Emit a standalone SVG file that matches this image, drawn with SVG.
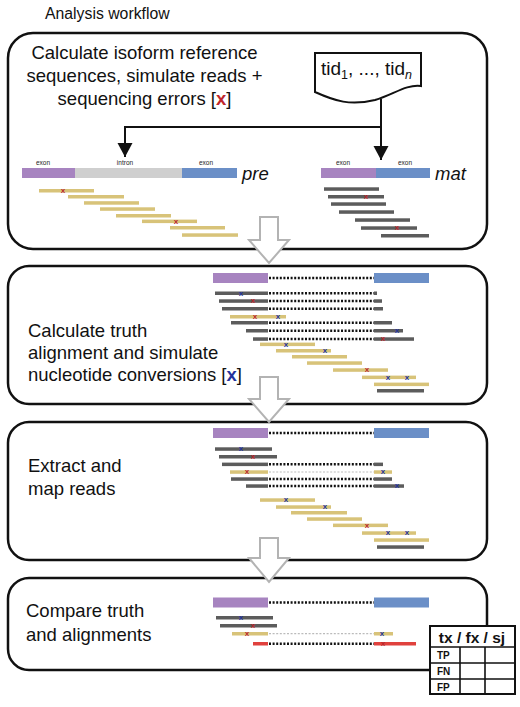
<svg xmlns="http://www.w3.org/2000/svg" width="520" height="707" viewBox="0 0 520 707">
<style>
text{font-family:"Liberation Sans",Arial,sans-serif;fill:#111}
.panel{fill:#fff;stroke:#111;stroke-width:2.5}
.big{font-size:18.5px}
.lab{font-size:6.5px;text-anchor:middle;fill:#222}
.iso{font-size:18.5px;font-style:italic}
.pu{fill:#a784c0}.bl{fill:#6b8fc7}.in{fill:#cfcfcf}
.y{fill:#d8c379}.g{fill:#5c5c5c}.r{fill:#e0413d}
.dot{stroke:#111;stroke-width:2.4;stroke-dasharray:2 1.6;fill:none}
.ldot{stroke:#bbb;stroke-width:1.2;stroke-dasharray:2 1.6;fill:none}
.xr{font-size:8px;font-weight:bold;fill:#b8262b;text-anchor:middle}
.xb{font-size:8px;font-weight:bold;fill:#23339c;text-anchor:middle}
.conn{stroke:#111;stroke-width:2;fill:none}
.hollow{fill:#fff;stroke:#b3b3b3;stroke-width:2}
.tbl{fill:#fff;stroke:#111;stroke-width:2}
.tl{fill:none;stroke:#111;stroke-width:1.6}
</style>
<defs>
<marker id="ah" markerUnits="userSpaceOnUse" markerWidth="15" markerHeight="16" refX="14" refY="7.5" orient="auto">
<path d="M0,0 L14,7.5 L0,15 Z" fill="#111"/>
</marker>
</defs>

<g id="title"><text x="45" y="19" style="font-size:15.8px">Analysis workflow</text></g>

<g id="panel1">
<rect class="panel" x="8" y="33" width="479" height="216" rx="25"/>
<text class="big" text-anchor="middle" x="144.5" y="59">Calculate isoform reference</text>
<text class="big" text-anchor="middle" x="144.5" y="82">sequences, simulate reads +</text>
<text class="big" text-anchor="middle" x="144.5" y="105">sequencing errors [<tspan style="fill:#c0262b;font-weight:bold">x</tspan>]</text>
</g>

<g id="panel2">
<rect class="panel" x="8" y="266" width="479" height="138" rx="21"/>
<text class="big" x="28" y="337">Calculate truth</text>
<text class="big" x="28" y="359">alignment and simulate</text>
<text class="big" x="28" y="381">nucleotide conversions [<tspan style="fill:#23339c;font-weight:bold">x</tspan>]</text>
</g>

<g id="panel3">
<rect class="panel" x="8" y="422" width="479" height="138" rx="21"/>
<text class="big" x="28" y="472">Extract and</text>
<text class="big" x="28" y="495">map reads</text>
</g>

<g id="panel4">
<rect class="panel" x="8" y="578" width="479" height="92" rx="21"/>
<text class="big" x="26" y="617">Compare truth</text>
<text class="big" x="26" y="641">and alignments</text>
</g>

<g id="doc">
<path d="M315,53 H421 V86 C406,84 393,95 375,100 C350,106 335,101 315,92 Z" fill="#fff" stroke="#111" stroke-width="2"/>
<text x="321" y="75" style="font-size:19px">tid<tspan style="font-size:12.5px" dy="4">1</tspan><tspan dy="-4">, ..., tid</tspan><tspan style="font-size:12.5px;font-style:italic" dy="4">n</tspan></text>
</g>

<g id="connectors">
<path class="conn" d="M381,99 V160" marker-end="url(#ah)"/>
<path class="conn" d="M381,127 H125 V157" marker-end="url(#ah)"/>
</g>

<g id="pre-ref">
<rect class="pu" x="22" y="168" width="53" height="10"/>
<rect class="in" x="75" y="168" width="107" height="10"/>
<rect class="bl" x="182" y="168" width="55" height="10"/>
<text class="lab" x="43" y="165">exon</text>
<text class="lab" x="125" y="165">intron</text>
<text class="lab" x="206" y="165">exon</text>
<text class="iso" x="242" y="180">pre</text>
</g>

<g id="mat-ref">
<rect class="pu" x="321" y="168" width="55" height="10"/>
<rect class="bl" x="376" y="168" width="54" height="10"/>
<text class="lab" x="343" y="165">exon</text>
<text class="lab" x="405" y="165">exon</text>
<text class="iso" x="435" y="180">mat</text>
</g>

<g id="pre-reads">
<rect class="y" x="39" y="189" width="55" height="3.5"/>
<rect class="y" x="68" y="195" width="56" height="3.5"/>
<rect class="y" x="84" y="201.2" width="55" height="3.5"/>
<rect class="y" x="100" y="207.3" width="55" height="3.5"/>
<rect class="y" x="116" y="214" width="55" height="3.5"/>
<rect class="y" x="142" y="219.6" width="55" height="3.5"/>
<rect class="y" x="170" y="226" width="55" height="3.5"/>
<rect class="y" x="182" y="233.3" width="56" height="3.5"/>
<text class="xr" x="63" y="193">x</text>
<text class="xr" x="176" y="223.6">x</text>
</g>

<g id="mat-reads">
<rect class="g" x="324" y="187.3" width="55" height="3.5"/>
<rect class="g" x="328" y="195" width="56" height="3.5"/>
<rect class="g" x="331" y="202.3" width="55" height="3.5"/>
<rect class="g" x="339" y="210.3" width="55" height="3.5"/>
<rect class="g" x="355" y="218.3" width="55" height="3.5"/>
<rect class="g" x="361" y="226.3" width="56" height="3.5"/>
<rect class="g" x="381" y="234" width="48" height="3.5"/>
<text class="xr" x="366" y="199">x</text>
<text class="xr" x="397" y="230.3">x</text>
</g>

<g id="connectors-flow">
<path class="hollow" d="M260,217 H278 V240 H289 L269,263 L249,240 H260 Z"/>
<path class="hollow" d="M260,377 H278 V399 H289 L269,422 L249,399 H260 Z"/>
<path class="hollow" d="M260,538 H278 V558 H289 L269,582 L249,558 H260 Z"/>
</g>

<g id="truth-alignment">
<rect class="pu" x="213" y="273" width="55" height="10"/>
<rect class="bl" x="374" y="273" width="55" height="10"/>
<line class="dot" x1="269" y1="278" x2="374" y2="278"/>
<rect class="g" x="215" y="291.5" width="53" height="3.5"/><line class="dot" x1="269" y1="293.3" x2="374" y2="293.3"/><rect class="g" x="374" y="291.5" width="3" height="3.5"/>
<rect class="g" x="219" y="299.3" width="49" height="3.5"/><line class="dot" x1="269" y1="301" x2="374" y2="301"/><rect class="g" x="374" y="299.3" width="8" height="3.5"/>
<rect class="g" x="222" y="307" width="46" height="3.5"/><line class="dot" x1="269" y1="308.7" x2="374" y2="308.7"/><rect class="g" x="374" y="307" width="9" height="3.5"/>
<rect class="y" x="230" y="315" width="56" height="3.5"/>
<rect class="g" x="231" y="321" width="37" height="3.5"/><line class="dot" x1="269" y1="322.7" x2="374" y2="322.7"/><rect class="g" x="374" y="321" width="18" height="3.5"/>
<rect class="g" x="246" y="329" width="22" height="3.5"/><line class="dot" x1="269" y1="330.7" x2="374" y2="330.7"/><rect class="g" x="374" y="329" width="29" height="3.5"/>
<rect class="g" x="253" y="337.3" width="15" height="3.5"/><line class="dot" x1="269" y1="339" x2="374" y2="339"/><rect class="g" x="374" y="337.3" width="40" height="3.5"/>
<rect class="y" x="260" y="342.6" width="55" height="3.5"/>
<rect class="y" x="276" y="349" width="55" height="3.5"/>
<rect class="y" x="292" y="355" width="55" height="3.5"/>
<rect class="y" x="307" y="361.3" width="55" height="3.5"/>
<rect class="y" x="333" y="368.3" width="55" height="3.5"/>
<rect class="y" x="362" y="375.6" width="54" height="3.5"/>
<rect class="y" x="374" y="382.6" width="55" height="3.5"/>
<rect class="g" x="377" y="389" width="47" height="3.5"/>
<text class="xb" x="241" y="295.6">x</text>
<text class="xr" x="253" y="303.3">x</text>
<text class="xr" x="255" y="319">x</text>
<text class="xb" x="278" y="319">x</text>
<text class="xb" x="397" y="333">x</text>
<text class="xr" x="383" y="341.3">x</text>
<text class="xb" x="286" y="346.6">x</text>
<text class="xb" x="325" y="353">x</text>
<text class="xr" x="367" y="372.3">x</text>
<text class="xb" x="388" y="379.6">x</text>
<text class="xb" x="407" y="379.6">x</text>
</g>

<g id="mapped-reads">
<rect class="pu" x="213" y="428" width="55" height="10"/>
<rect class="bl" x="374" y="428" width="55" height="10"/>
<line class="dot" x1="269" y1="433" x2="374" y2="433"/>
<rect class="g" x="215" y="447.3" width="57" height="3.5"/>
<rect class="g" x="219" y="455" width="58" height="3.5"/>
<rect class="g" x="222" y="462.6" width="46" height="3.5"/><line class="dot" x1="269" y1="464.3" x2="374" y2="464.3"/><rect class="g" x="374" y="462.6" width="9" height="3.5"/>
<rect class="y" x="230" y="470.3" width="38" height="3.5"/><line class="ldot" x1="269" y1="472" x2="374" y2="472"/><rect class="y" x="374" y="470.3" width="18" height="3.5"/>
<rect class="g" x="231" y="477.3" width="37" height="3.5"/><line class="dot" x1="269" y1="479" x2="374" y2="479"/><rect class="g" x="374" y="477.3" width="18" height="3.5"/>
<rect class="g" x="246" y="484.3" width="22" height="3.5"/><line class="dot" x1="269" y1="486" x2="374" y2="486"/><rect class="g" x="374" y="484.3" width="30" height="3.5"/>
<rect class="y" x="260" y="498.3" width="55" height="3.5"/>
<rect class="y" x="276" y="505.3" width="55" height="3.5"/>
<rect class="y" x="291" y="511" width="56" height="3.5"/>
<rect class="y" x="307" y="517.3" width="55" height="3.5"/>
<rect class="y" x="333" y="523.6" width="55" height="3.5"/>
<rect class="y" x="362" y="531.3" width="54" height="3.5"/>
<rect class="y" x="374" y="538.3" width="55" height="3.5"/>
<rect class="g" x="377" y="545.3" width="47" height="3.5"/>
<text class="xb" x="241" y="451.3">x</text>
<text class="xr" x="253" y="459">x</text>
<text class="xr" x="247" y="474.3">x</text>
<text class="xb" x="383" y="474.3">x</text>
<text class="xb" x="397" y="488.3">x</text>
<text class="xb" x="286" y="502.3">x</text>
<text class="xb" x="325" y="509.3">x</text>
<text class="xr" x="367" y="527.6">x</text>
<text class="xb" x="388" y="535.3">x</text>
<text class="xb" x="407" y="535.3">x</text>
</g>

<g id="compare">
<rect class="pu" x="213" y="597.5" width="55" height="10"/>
<rect class="bl" x="374" y="597.5" width="55" height="10"/>
<line class="dot" x1="269" y1="602.5" x2="374" y2="602.5"/>
<rect class="g" x="216" y="616" width="57" height="3.5"/>
<rect class="g" x="220" y="624" width="57" height="3.5"/>
<rect class="y" x="232" y="632" width="36" height="3.5"/><line class="ldot" x1="269" y1="633.7" x2="374" y2="633.7"/><rect class="y" x="374" y="632" width="19" height="3.5"/>
<rect class="r" x="253" y="642" width="15" height="3.5"/><line class="dot" x1="269" y1="643.7" x2="374" y2="643.7"/><rect class="r" x="374" y="642" width="42" height="3.5"/>
<text class="xb" x="241" y="620">x</text>
<text class="xr" x="253" y="628">x</text>
<text class="xr" x="247" y="636">x</text>
<text class="xb" x="382" y="636">x</text>
<text class="xr" x="383" y="646">x</text>
</g>

<g id="table">
<rect class="tbl" x="430" y="626" width="85" height="68"/>
<path class="tl" d="M430,647 H515 M430,663 H515 M430,679 H515 M460,647 V694 M485,647 V694"/>
<text x="472" y="643" text-anchor="middle" style="font-size:15.5px;font-weight:bold">tx / fx / sj</text>
<text x="437" y="659" style="font-size:10px;font-weight:bold">TP</text>
<text x="437" y="675" style="font-size:10px;font-weight:bold">FN</text>
<text x="437" y="691" style="font-size:10px;font-weight:bold">FP</text>
</g>
</svg>
